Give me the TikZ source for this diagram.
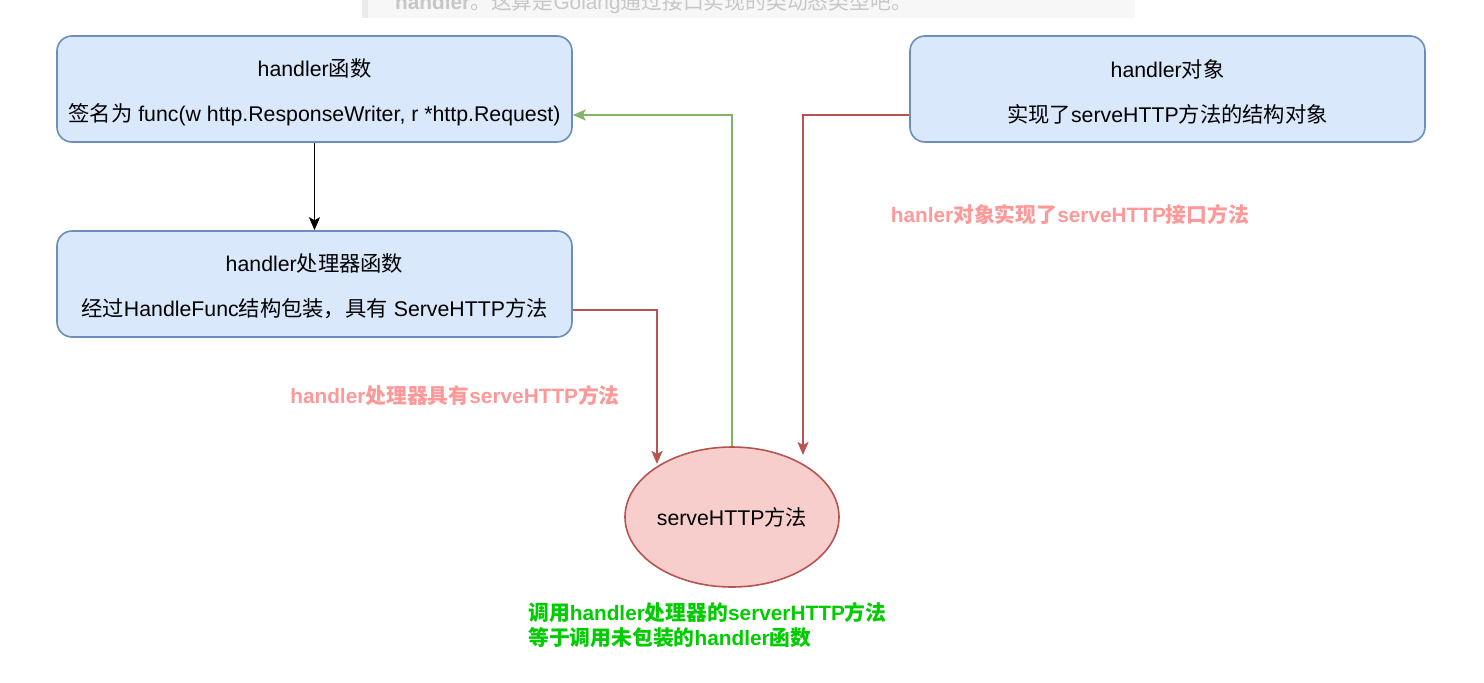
\documentclass[tikz,border=0pt]{standalone}
\usepackage{fontspec}
\setmainfont{Liberation Sans}
\newfontfamily\cjk{Noto Sans CJK SC}
\usetikzlibrary{arrows.meta,shapes.geometric}
\newcommand\zh[1]{{\cjk #1}}
\definecolor{boxfill}{HTML}{DAE8FC}
\definecolor{boxdraw}{HTML}{6C8EBF}
\definecolor{ellfill}{HTML}{F8CECC}
\definecolor{elldraw}{HTML}{B85450}
\definecolor{grnln}{HTML}{82B366}
\definecolor{redtxt}{HTML}{FF9999}
\definecolor{grntxt}{HTML}{00CC00}
\tikzset{
  boxnode/.style={draw=boxdraw,fill=boxfill,rounded corners=15pt,line width=1.6pt,
    minimum width=515pt,minimum height=106pt,inner sep=0pt},
  boxtext/.style={inner sep=0pt,align=center,font=\fontsize{21.3}{45}\selectfont},
  ellnode/.style={ellipse,draw=elldraw,fill=ellfill,line width=1.6pt,
    minimum width=214pt,minimum height=140pt,inner sep=0pt,font=\fontsize{21.3}{24}\selectfont},
  arr/.style={line width=1.7pt,-{Stealth[length=13pt,width=11pt,inset=3pt]}},
  blkarr/.style={arr,draw=black},
  redarr/.style={arr,draw=elldraw},
  grnarr/.style={arr,draw=grnln},
  redlabel/.style={text=redtxt,font=\fontsize{20.8}{24}\selectfont\bfseries,inner sep=0pt},
  grnlabel/.style={text=grntxt,font=\fontsize{20.8}{25}\selectfont\bfseries,inner sep=0pt,align=left}
}
\begin{document}
\begin{tikzpicture}[x=1pt,y=-1pt]
\useasboundingbox (0,0) rectangle (1484,683);
\fill[white] (0,0) rectangle (1484,683);
% top cut-off artifact (cut off in the reference too)
\fill[black!3] (368,0) rectangle (1135,18);
\fill[black!8] (362,0) rectangle (368,18);
\node[anchor=base west,inner sep=0pt,text=black!22,font=\fontsize{20.8}{24}\selectfont] (top) at (395,9)
  {\textbf{handler}\zh{。这算是}Golang\zh{通过接口实现的类动态类型吧。}};

\node[boxnode] (b1) at (314.5,89) {};
\node[boxtext] (t1) at ([yshift=-3pt]b1.center) {handler\zh{函数}\\\zh{签名为} func(w http.ResponseWriter, r *http.Request)};
\node[boxnode] (b2) at (314.5,284) {};
\node[boxtext] (t2) at ([yshift=-2pt]b2.center) {handler\zh{处理器函数}\\\zh{经过}HandleFunc\zh{结构包装，具有} ServeHTTP\zh{方法}};
\node[boxnode] (b3) at (1167.5,89) {};
\node[boxtext] (t3) at ([yshift=-3pt]b3.center) {handler\zh{对象}\\\zh{实现了}serveHTTP\zh{方法的结构对象}};
\node[ellnode] (e) at (732,517) {serveHTTP\zh{方法}};

\coordinate (c1) at (657,464);
\coordinate (c2) at (803,455);

\draw[blkarr] (b1.south) -- (b2.north);
\draw[redarr] ([yshift=-26pt]b2.east) -| (c1);
\draw[grnarr] (e.north) |- ([yshift=-26pt]b1.east);
\draw[redarr] ([yshift=-26pt]b3.west) -| (c2);

\node[redlabel] (l1) at (455,395) {handler\zh{处理器具有}serveHTTP\zh{方法}};
\node[redlabel] (l2) at (1070,214) {hanler\zh{对象实现了}serveHTTP\zh{接口方法}};
\node[grnlabel,anchor=north west] (l3) at (528,602) {\zh{调用}handler\zh{处理器的}serverHTTP\zh{方法}\\\zh{等于调用未包装的}handler\zh{函数}};
\end{tikzpicture}
\end{document}
